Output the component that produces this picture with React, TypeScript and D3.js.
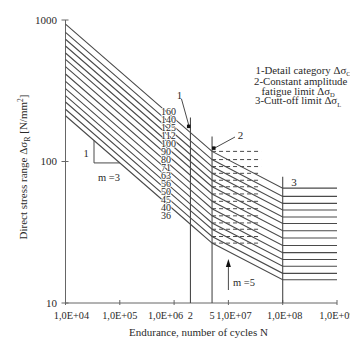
import React from "react";
import * as d3 from "d3";

// Detail categories Δσc (value at N = 2·10^6)
const categories = [160, 140, 125, 112, 100, 90, 80, 71, 63, 56, 50, 45, 40, 36];
// Stress range at start of curve (N = 1·10^4)
const sigmaStart = [935.7, 818.7, 731.0, 655.0, 584.8, 526.3, 467.8, 415.2, 368.4, 327.5, 292.4, 263.2, 233.9, 210.5];
// Constant amplitude fatigue limit ΔσD (N = 5·10^6)
const sigmaD = [117.9, 103.2, 92.1, 82.5, 73.7, 66.3, 59.0, 52.3, 46.4, 41.3, 36.8, 33.2, 29.5, 26.5];
// Cut-off limit ΔσL (N = 1·10^8)
const sigmaL = [64.8, 56.7, 50.6, 45.4, 40.5, 36.5, 32.4, 28.8, 25.5, 22.7, 20.3, 18.2, 16.2, 14.6];

// Key endurances
const nStart = 1e4;
const nC = 2e6;
const nD = 5e6;
const nL = 1e8;
const nEnd = 1e9;
const nDashEnd = 4e7;

const xTicks = [1e4, 1e5, 1e6, 1e7, 1e8, 1e9];
const xTickLabels = ["1,0E+04", "1,0E+05", "1,0E+06", "1,0E+07", "1,0E+08", "1,0E+09"];
const xExtraTicks = [2e6, 5e6];
const xExtraLabels = ["2", "5"];
const yTicks = [10, 100, 1000];
const yTickLabels = ["10", "100", "1000"];

// vertical marker lines: endurance and top stress value
const vLinesN = [2e6, 5e6, 1e8];
const vLinesTop = [205, 150, 78];

const legendLines = [
  ["1-Detail category Δσ", "C"],
  ["2-Constant amplitude", ""],
  ["fatigue limit Δσ", "D"],
  ["3-Cutt-off limit Δσ", "L"],
];

// layout
const W = 350;
const H = 339;
const FONT = '"Liberation Serif", "Times New Roman", serif';
const LINE = "#4a4a4a";
const TXT = "#2a2a2a";
const xLabelShift = [6, 0, -8.5, 5.5, 2, 0];
const legendX = [255.5, 254, 261.5, 255];
const legendY = [70, 81, 91, 100.5];

export default function App() {
  const x = d3.scaleLog().domain([1e4, 1e9]).range([65.5, 337]);
  const y = d3.scaleLog().domain([10, 1000]).range([303, 20]);
  const line = d3
    .line<[number, number]>()
    .x((d) => x(d[0]))
    .y((d) => y(d[1]));

  const labelY = d3.scalePoint<number>().domain(categories).range([111.5, 215]);

  // slope triangle on the lowest curve
  const triN1 = Math.pow(10, 4.525);
  const triN2 = 1e5;
  const low = categories.length - 1;
  const sAt = (i: number, n: number) => sigmaStart[i] * Math.pow(nStart / n, 1 / 3);
  const triTop = sAt(low, triN1);
  const triBottom = sAt(low, triN2);

  return (
    <svg
      width={W}
      height={H}
      style={{ position: "absolute", left: 0, top: 0, background: "#fff" }}
      fontFamily={FONT}
    >
      {/* axes */}
      <line x1={x(1e4)} x2={x(1e4)} y1={y(10)} y2={y(1000)} stroke="#666" strokeWidth={1} />
      <line x1={x(1e4)} x2={x(1e9)} y1={y(10)} y2={y(10)} stroke="#666" strokeWidth={1} />
      {yTicks.map((t, i) => (
        <g key={"yt" + i}>
          <line x1={x(1e4) - 4} x2={x(1e4) + 3} y1={y(t)} y2={y(t)} stroke="#666" />
          <text x={57} y={y(t)} dy="0.35em" textAnchor="end" fontSize={11} fill={TXT}>
            {yTickLabels[i]}
          </text>
        </g>
      ))}
      {xTicks.map((t, i) => (
        <g key={"xt" + i}>
          <line x1={x(t)} x2={x(t)} y1={y(10) - 3} y2={y(10) + 2} stroke="#666" />
          <text x={x(t) + xLabelShift[i]} y={319} textAnchor="middle" fontSize={10.3} fill={TXT}>
            {xTickLabels[i]}
          </text>
        </g>
      ))}
      {xExtraTicks.map((t, i) => (
        <text key={"xe" + i} x={x(t)} y={319} textAnchor="middle" fontSize={10.3} fill={TXT}>
          {xExtraLabels[i]}
        </text>
      ))}

      {/* axis titles */}
      <text x={198.5} y={336} textAnchor="middle" fontSize={11} fill={TXT}>
        Endurance, number of cycles N
      </text>
      <text
        transform="translate(27,167) rotate(-90)"
        textAnchor="middle"
        fontSize={11}
        fill={TXT}
      >
        Direct stress range Δσ
        <tspan fontSize={8} dy={3}>R</tspan>
        <tspan dy={-3}> [N/mm</tspan>
        <tspan fontSize={7.5} dy={-4}>2</tspan>
        <tspan dy={4}>]</tspan>
      </text>

      {/* vertical marker lines */}
      {vLinesN.map((n, i) => (
        <line
          key={"v" + i}
          x1={x(n)}
          x2={x(n)}
          y1={y(10)}
          y2={y(vLinesTop[i])}
          stroke={LINE}
          strokeWidth={1.1}
        />
      ))}

      {/* dashed constant amplitude limits */}
      {sigmaD.map((s, i) => (
        <line
          key={"d" + i}
          x1={x(nD)}
          x2={x(nDashEnd)}
          y1={y(s)}
          y2={y(s)}
          stroke={LINE}
          strokeWidth={1}
          strokeDasharray="4,3"
        />
      ))}

      {/* S-N curves */}
      {categories.map((c, i) => (
        <path
          key={"c" + c}
          d={
            line([
              [nStart, sigmaStart[i]],
              [nC, c],
              [nD, sigmaD[i]],
              [nL, sigmaL[i]],
              [nEnd, sigmaL[i]],
            ]) || ""
          }
          fill="none"
          stroke={LINE}
          strokeWidth={1.1}
        />
      ))}

      {/* category labels */}
      {categories.map((c) => (
        <text
          key={"l" + c}
          x={161}
          y={labelY(c)}
          dy="0.35em"
          fontSize={10}
          fill={TXT}
          stroke="#fff"
          strokeWidth={1.5}
          paintOrder="stroke"
        >
          {c}
        </text>
      ))}

      {/* slope triangle m=3 */}
      <path
        d={`M${x(triN1)},${y(triTop)}L${x(triN1)},${y(triBottom)}L${x(triN2)},${y(triBottom)}`}
        fill="none"
        stroke={LINE}
        strokeWidth={1}
      />
      <text x={86} y={153} dy="0.35em" textAnchor="middle" fontSize={10.5} fill={TXT}>
        1
      </text>
      <text x={109} y={177} dy="0.35em" textAnchor="middle" fontSize={10.5} fill={TXT}>
        m =3
      </text>

      {/* annotation 1 */}
      <line x1={181.5} y1={99} x2={x(nC) - 1} y2={y(categories[0]) - 5} stroke={LINE} />
      <rect x={x(nC) - 3.5} y={y(categories[0]) - 8} width={3.5} height={3.5} fill="#111" />
      <text x={179.5} y={95} dy="0.35em" textAnchor="middle" fontSize={11} fill={TXT}>
        1
      </text>

      {/* annotation 2 */}
      <line x1={235} y1={137} x2={x(nD) + 2} y2={y(sigmaD[0]) - 3} stroke={LINE} />
      <rect x={x(nD)} y={y(sigmaD[0]) - 5} width={3.5} height={3.5} fill="#111" />
      <text x={240.5} y={135} dy="0.35em" textAnchor="middle" fontSize={11} fill={TXT}>
        2
      </text>

      {/* annotation 3 */}
      <text x={294} y={182} dy="0.35em" textAnchor="middle" fontSize={11} fill={TXT}>
        3
      </text>

      {/* m=5 arrow */}
      <line x1={x(1e7)} x2={x(1e7)} y1={290} y2={265} stroke={LINE} strokeWidth={1} />
      <path
        d={`M${x(1e7) - 2.5},${267}L${x(1e7)},${259}L${x(1e7) + 2.5},${267}Z`}
        fill="#111"
      />
      <text x={233} y={282} dy="0.35em" fontSize={10.5} fill={TXT}>
        m =5
      </text>

      {/* legend */}
      {legendLines.map((l, i) => (
        <text
          key={"lg" + i}
          x={legendX[i]}
          y={legendY[i]}
          dy="0.35em"
          fontSize={10.8}
          fill={TXT}
        >
          {l[0]}
          {l[1] ? (
            <tspan fontSize={6.5} dy={2.5}>
              {l[1]}
            </tspan>
          ) : null}
        </text>
      ))}
    </svg>
  );
}
